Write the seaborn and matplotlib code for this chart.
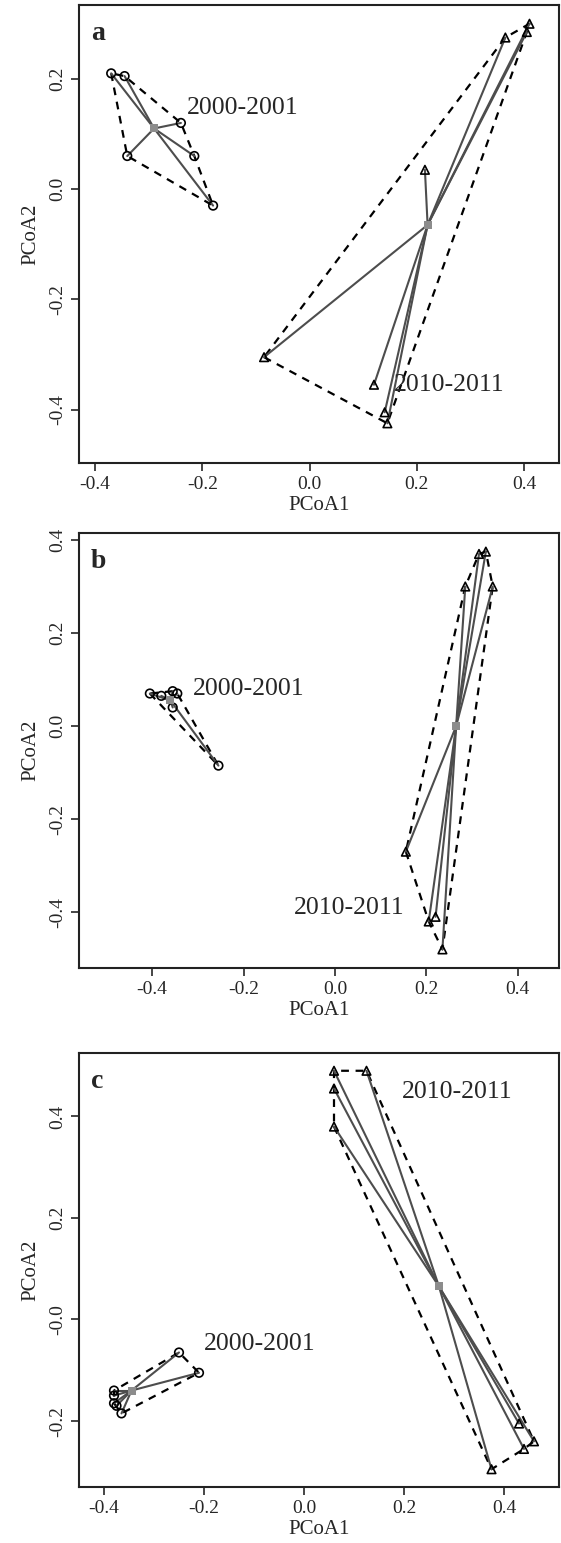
import numpy as np
import pandas as pd
import matplotlib
matplotlib.use("Agg")
import matplotlib.pyplot as plt
import seaborn as sns

# ---- data (PCoA scores) ----
# panel a
a_x_2000 = [-0.37, -0.345, -0.24, -0.215, -0.34, -0.18]
a_y_2000 = [0.21, 0.205, 0.12, 0.06, 0.06, -0.03]
a_cent_2000 = (-0.29, 0.11)
a_x_2010 = [0.365, 0.41, 0.405, 0.215, -0.085, 0.12, 0.14, 0.145]
a_y_2010 = [0.275, 0.30, 0.285, 0.035, -0.305, -0.355, -0.405, -0.425]
a_cent_2010 = (0.22, -0.065)

# panel b
b_x_2000 = [-0.405, -0.38, -0.355, -0.345, -0.355, -0.255]
b_y_2000 = [0.07, 0.065, 0.075, 0.07, 0.04, -0.085]
b_cent_2000 = (-0.36, 0.055)
b_x_2010 = [0.315, 0.33, 0.285, 0.345, 0.155, 0.205, 0.22, 0.235]
b_y_2010 = [0.37, 0.375, 0.30, 0.30, -0.27, -0.42, -0.41, -0.48]
b_cent_2010 = (0.265, 0.0)

# panel c
c_x_2000 = [-0.38, -0.38, -0.38, -0.375, -0.365, -0.25, -0.21]
c_y_2000 = [-0.14, -0.15, -0.165, -0.17, -0.185, -0.065, -0.105]
c_cent_2000 = (-0.345, -0.14)
c_x_2010 = [0.06, 0.06, 0.06, 0.125, 0.43, 0.44, 0.46, 0.375]
c_y_2010 = [0.49, 0.455, 0.38, 0.49, -0.205, -0.255, -0.24, -0.295]
c_cent_2010 = (0.27, 0.065)

panel_letters = ["a", "b", "c"]
x_ticks = [-0.4, -0.2, 0.0, 0.2, 0.4]
y_ticks_a = [-0.4, -0.2, 0.0, 0.2]
y_ticks_b = [-0.4, -0.2, 0.0, 0.2, 0.4]
y_ticks_c = [-0.2, 0.0, 0.2, 0.4]
y_labels_c = ["-0.2", "-0.0", "0.2", "0.4"]


def hull(xs, ys):
    # monotone chain convex hull, returns closed polygon
    pts = sorted(set(zip(xs, ys)))
    def cross(o, a, b):
        return (a[0]-o[0])*(b[1]-o[1]) - (a[1]-o[1])*(b[0]-o[0])
    lower, upper = [], []
    for p in pts:
        while len(lower) >= 2 and cross(lower[-2], lower[-1], p) <= 0:
            lower.pop()
        lower.append(p)
    for p in reversed(pts):
        while len(upper) >= 2 and cross(upper[-2], upper[-1], p) <= 0:
            upper.pop()
        upper.append(p)
    poly = lower[:-1] + upper[:-1]
    poly.append(poly[0])
    return np.array(poly)


def draw_group(ax, xs, ys, cent, marker):
    h = hull(xs, ys)
    ax.plot(h[:, 0], h[:, 1], color="black", ls=(0, (3.5, 3)), lw=1.6, zorder=1)
    for x, y in zip(xs, ys):
        ax.plot([cent[0], x], [cent[1], y], color="#4d4d4d", lw=1.5, zorder=2)
    df = pd.DataFrame({"x": xs, "y": ys})
    sns.scatterplot(data=df, x="x", y="y", ax=ax, marker=marker, s=38,
                    facecolor="none", edgecolor="black", linewidth=1.2, zorder=3)
    ax.scatter([cent[0]], [cent[1]], marker="s", s=30, color="#8c8c8c",
               linewidths=0, zorder=4)


sns.set_style("ticks")
plt.rcParams['font.family'] = ['Liberation Serif', 'DejaVu Serif']
plt.rcParams['axes.linewidth'] = 1.5

fig = plt.figure(figsize=(5.61, 15.43), dpi=100)
W, H = 561, 1543
boxes = [(79, 5, 559, 463), (79, 533, 559, 968), (79, 1053, 559, 1487)]
axes = [fig.add_axes([l / W, 1 - b / H, (r - l) / W, (b - t) / H]) for l, t, r, b in boxes]

panels = [
    (a_x_2000, a_y_2000, a_cent_2000, a_x_2010, a_y_2010, a_cent_2010,
     (-0.43, 0.465), (-0.497, 0.334), y_ticks_a, None,
     (-0.229, 0.147), (0.158, -0.356)),
    (b_x_2000, b_y_2000, b_cent_2000, b_x_2010, b_y_2010, b_cent_2010,
     (-0.56, 0.49), (-0.52, 0.415), y_ticks_b, None,
     (-0.31, 0.08), (-0.09, -0.39)),
    (c_x_2000, c_y_2000, c_cent_2000, c_x_2010, c_y_2010, c_cent_2010,
     (-0.45, 0.51), (-0.33, 0.525), y_ticks_c, y_labels_c,
     (-0.20, -0.048), (0.196, 0.448)),
]

for ax, letter, p in zip(axes, panel_letters, panels):
    x0, y0, c0, x1, y1, c1, xl, yl, yt, ylab, t0, t1 = p
    draw_group(ax, x0, y0, c0, "o")
    draw_group(ax, x1, y1, c1, "^")
    ax.text(t0[0], t0[1], "2000-2001", fontsize=18.5, va="center", ha="left")
    ax.text(t1[0], t1[1], "2010-2011", fontsize=18.5, va="center", ha="left")
    ax.annotate(letter, xy=(0, 1), xycoords="axes fraction", xytext=(12, -35),
                textcoords="offset pixels", fontsize=20, fontweight="bold",
                va="baseline", ha="left")
    ax.set_xlim(*xl)
    ax.set_ylim(*yl)
    ax.set_xticks(x_ticks)
    ax.set_xticklabels(["-0.4", "-0.2", "0.0", "0.2", "0.4"])
    ax.set_yticks(yt)
    if ylab is None:
        ax.set_yticklabels([f"{v:.1f}".replace("-0.0", "0.0") for v in yt])
    else:
        ax.set_yticklabels(ylab)
    ax.tick_params(labelsize=14, length=6, width=1.2, direction="out")
    for lab in ax.get_yticklabels():
        lab.set_rotation(90)
        lab.set_va("center")
    ax.set_xlabel("PCoA1", fontsize=15, labelpad=2)
    ax.set_ylabel("PCoA2", fontsize=15, labelpad=6)
    for s in ax.spines.values():
        s.set_color("#222222")

fig.savefig("out.png", dpi=100)
